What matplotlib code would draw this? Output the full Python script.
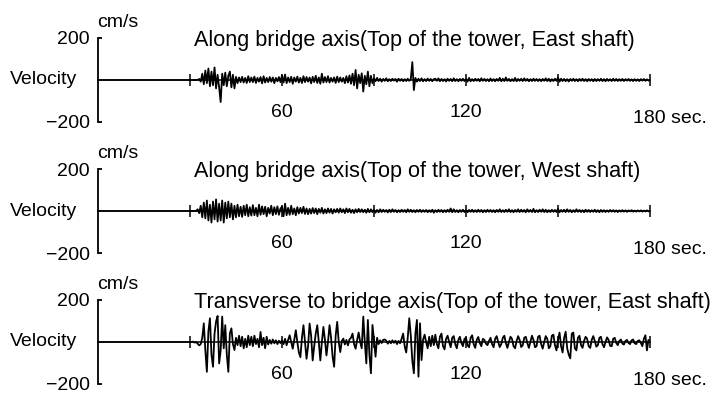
import numpy as np
import matplotlib
matplotlib.use("Agg")
import matplotlib.pyplot as plt

plt.rcParams['font.family'] = ['Liberation Sans', 'DejaVu Sans']

# sampling of the read-off traces (s)
t_start = 30.0
dt = 0.5

titles = [
    "Along bridge axis(Top of the tower, East shaft)",
    "Along bridge axis(Top of the tower, West shaft)",
    "Transverse to bridge axis(Top of the tower, East shaft)",
]
tick_positions = [30, 60, 90, 120, 150, 180]
tick_labels = ["60", "120"]
tick_label_pos = [60, 120]

# velocity (cm/s), one row = 10 s
east_along = [
    0, 0, 0, 0, 0, 0, 5, -8, 30, -20, 45, -15, 55, -30, 40, -25, 60, -40, 25, -35,
    -105, 30, -25, 35, -30, 20, 40, -35, 25, -40, 15, -15, 12, -10, 15, -12, 10, -14, 18, -10,
    12, -10, 16, -14, 10, -8, 14, -16, 18, -12, 10, -10, 14, -8, 12, -15, 10, -6, 14, -10,
    22, -12, 26, -15, 12, -10, 15, -18, 12, -8, 16, -12, 10, -14, 18, -10, 14, -8, 12, -16,
    15, -10, 20, -14, 12, -18, 30, -12, 14, -10, 18, -12, 10, -8, 12, -14, 16, -10, 12, -8,
    10, -15, 18, -12, 22, -18, 30, -25, 48, -40, 25, -15, 32, -55, 20, -20, 40, -30, 20, -15,
    8, -6, 10, -5, 6, -8, 5, -4, 8, -6, 4, -5, 6, -3, 5, -8, 6, -4, 5, -6,
    4, -5, 6, -4, 5, 85, -48, 10, -8, 6, -5, 8, -6, 4, -5, 7, -4, 5, -6, 4,
    6, -4, 8, -6, 5, -5, 4, -7, 6, -4, 5, -6, 8, -5, 4, -6, 5, -4, 6, -5,
    5, -8, 10, -6, 4, -5, 6, -4, 5, -6, 8, -4, 5, -5, 4, -6, 7, -5, 4, -6,
    5, -4, 10, -6, 6, -5, 12, -4, 5, -6, 4, -5, 10, -6, 5, -4, 6, -5, 8, -4,
    5, -6, 4, -5, 6, -4, 5, -5, 4, -6, 5, -4, 8, -5, 6, -7, 4, -5, 6, -4,
    12, -8, 6, -5, 5, -6, 4, -7, 5, -4, 6, -5, 4, -6, 5, -4, 6, -5, 4, -6,
    5, -4, 4, -6, 5, -5, 4, -4, 6, -5, 4, -6, 5, -4, 4, -5, 6, -4, 5, -5,
    4, -4, 5, -5, 4, -3, 5, -4, 3, -5, 4, -4, 3, -5, 4, -3, 5, -4, 3, -3,
    0,
]
west_along = [
    0, 0, 0, 0, 0, 8, -10, 25, -30, 40, -35, 50, -45, 30, -55, 45, -40, 55, -50, 35,
    -45, 50, -55, 40, -35, 45, -30, 35, -40, 25, -30, 30, -25, 20, -28, 25, -20, 30, -25, 18,
    -22, 28, -20, 15, -25, 30, -18, 22, -15, 20, -25, 15, -12, 25, -20, 18, -15, 22, -18, 12,
    20, -25, 35, -20, 15, -18, 25, -15, 12, -20, 18, -12, 15, -10, 20, -14, 12, -15, 10, -12,
    14, -10, 12, -15, 10, -8, 15, -12, 8, -10, 12, -8, 10, -12, 8, -6, 10, -8, 12, -6,
    8, -10, 12, -6, 10, -8, 6, -10, 8, -6, 10, -5, 8, -6, 6, -8, 10, -6, 8, -5,
    6, -8, 5, -6, 8, -5, 6, -4, 5, -7, 6, -5, 8, -4, 5, -6, 4, -5, 6, -4,
    5, -6, 8, -4, 6, -5, 4, -6, 5, -4, 6, -5, 4, -4, 5, -6, 4, -5, 6, -8,
    4, -5, 6, -4, 5, -6, 4, -5, 6, -4, 12, -6, 8, -5, 4, -6, 5, -4, 6, -5,
    4, -6, 5, -4, 6, -5, 4, -5, 6, -4, 5, -6, 4, -5, 6, -4, 5, -5, 4, -6,
    5, -4, 8, -5, 4, -5, 6, -4, 8, -5, 4, -6, 5, -4, 8, -5, 6, -4, 5, -6,
    8, -4, 5, -5, 10, -6, 4, -5, 6, -4, 8, -5, 6, -6, 4, -5, 6, -4, 5, -5,
    10, -6, 5, -4, 6, -5, 8, -4, 5, -6, 4, -5, 8, -4, 5, -5, 4, -6, 6, -4,
    5, -5, 4, -4, 6, -5, 4, -6, 5, -4, 4, -5, 3, -4, 5, -3, 4, -4, 3, -5,
    3, -3, 4, -3, 3, -4, 3, -2, 4, -3, 2, -3, 3, -2, 3, -3, 2, -2, 3, -2,
    0,
]
east_transverse = [
    0, 0, 2, -3, 0, -8, -16, -10, 20, 89, -40, -142, 50, 113, -60, -118, 40, 97, 124, -102,
    -40, 121, -30, 80, -60, -142, 41, 65, -10, -38, 20, -15, 30, -20, 25, -30, 15, -25, 30, -15,
    25, -20, 30, -10, 15, -25, 48, -15, 20, -30, 25, -12, 10, -8, 12, -6, 8, -10, 6, -5,
    8, -10, 15, -15, 10, 32, 0, -32, 10, 56, 0, -50, -72, 20, 80, 0, -80, -20, 88, 30,
    -88, -20, 40, 80, 0, -88, 0, 72, 10, -64, 0, 80, 20, -70, -118, 30, 96, 0, -48, 5,
    16, -12, 10, -16, 12, 20, 40, -10, -32, 10, 45, 0, -30, 121, 0, -102, 105, -60, -149, 81,
    10, -70, 20, -10, 8, -5, 10, 12, 6, -8, 5, -6, 8, -4, 6, -10, 5, -6, 15, 40,
    -20, -50, 20, 113, 30, -90, -149, 40, 105, -165, 89, -86, 10, 35, 0, -30, 25, -20, 30, -15,
    35, -10, -30, 25, 40, -20, -35, 15, 30, 0, -25, 20, 28, -10, -30, 10, 25, -5, -20, 15,
    20, -15, -25, 20, 32, -10, -28, 10, 24, -5, -20, 15, 10, -8, -15, 5, 20, -10, -25, 15,
    28, 0, -24, -10, 20, 30, -5, -28, 0, 25, 15, -20, -30, 5, 28, 10, -24, -15, 20, 25,
    -5, -28, 0, 30, 10, -25, -20, 25, 30, -10, -32, 0, 28, 15, -30, -20, 30, 35, -15, -40,
    10, 45, -20, -50, 20, 49, -30, -60, -78, 40, 45, -30, -40, 20, 30, -15, -28, 5, 25, 15,
    -20, -28, 10, 28, 5, -22, -15, 20, 25, -10, -25, 0, 22, 10, -18, -20, 15, 20, -5, -15,
    5, 12, -8, -12, 5, 10, -5, -10, 8, 12, -6, -10, 5, 8, -4, -20, 15, 32, -40, 10,
    0,
]
traces = [east_along, west_along, east_transverse]

W, H = 713, 408
fig = plt.figure(figsize=(W / 100, H / 100), dpi=100)

fs = 14
for k, (vel, title) in enumerate(zip(traces, titles)):
    zero_px = 80 + 131 * k
    half = 42
    ax = fig.add_axes([98 / W, 1 - (zero_px + half) / H, 552 / W, 2 * half / H])
    t = t_start + dt * np.arange(len(vel))
    # flat part before the record starts
    ax.plot([0, t_start], [0, 0], color='black', lw=1.1)
    ax.plot(t, vel, color='black', lw=1.3)

    ax.set_xlim(0, 180)
    ax.set_ylim(-200, 200)
    for s in ['top', 'right']:
        ax.spines[s].set_visible(False)
    ax.spines['left'].set_linewidth(1.3)
    ax.spines['bottom'].set_position(('data', 0))
    ax.spines['bottom'].set_linewidth(1.1)

    ax.set_yticks([-200, 200], ['\u2212200', '200'])
    ax.tick_params(axis='y', direction='in', length=3, width=1.3, pad=5.8,
                   labelsize=fs)
    ax.set_xticks(tick_positions)
    ax.tick_params(axis='x', direction='inout', length=8.5, width=1.1,
                   labelbottom=False)

    ax.text(-0.3, 276, "cm/s", ha='left', va='center', fontsize=fs, clip_on=False)
    ax.text(-28.7, 0, "Velocity", ha='left', va='center', fontsize=fs, clip_on=False)
    ax.text(31.3, 190, title, ha='left', va='center', fontsize=15.6, clip_on=False)
    for pos, lab in zip(tick_label_pos, tick_labels):
        ax.text(pos, -157, lab, ha='center', va='center', fontsize=fs, clip_on=False)
    ax.text(174.4, -183, "180 sec.", ha='left', va='center', fontsize=fs, clip_on=False)

fig.savefig("out.png", dpi=100)
